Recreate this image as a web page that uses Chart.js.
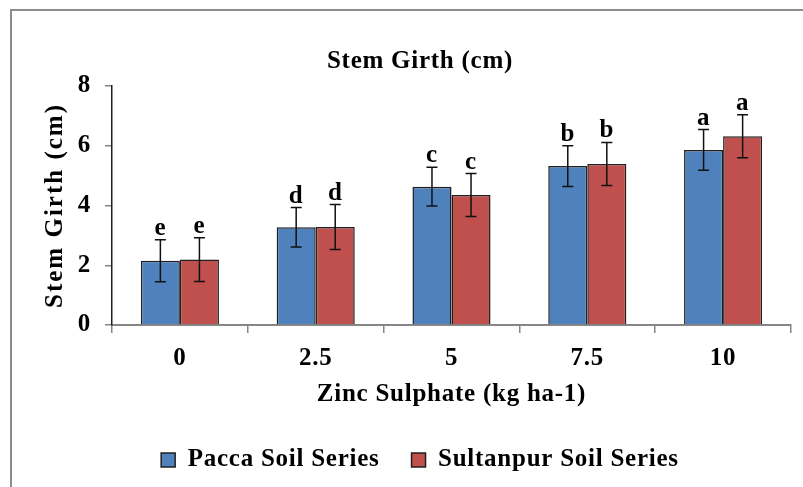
<!DOCTYPE html>
<html>
<head>
<meta charset="utf-8">
<script src="https://cdn.jsdelivr.net/npm/chart.js@4"></script>
<style>
  body { margin: 0; background: #fff; }
</style>
</head>
<body>
<canvas id="myChart" width="803" height="487"></canvas>
<script>
const labels = ['0', '2.5', '5', '7.5', '10'];
const paccaValues = [2.15, 3.27, 4.63, 5.32, 5.86];
const sultanpurValues = [2.19, 3.28, 4.35, 5.39, 6.32];
const paccaErrors = [0.70, 0.66, 0.65, 0.68, 0.68];
const sultanpurErrors = [0.73, 0.75, 0.72, 0.72, 0.72];
const paccaLetters = ['e', 'd', 'c', 'b', 'a'];
const sultanpurLetters = ['e', 'd', 'c', 'b', 'a'];
const yTicks = [0, 2, 4, 6, 8];

const FONT = "'Liberation Serif', 'Times New Roman', serif";
const FONT_SIZE = 25;
const axisColor = '#868686';

const errors = [paccaErrors, sultanpurErrors];
const letters = [paccaLetters, sultanpurLetters];

// the reference text is set a bit wide, so space the letters out
const spacingPlugin = {
    id: 'spacing',
    beforeUpdate(chart) { chart.ctx.letterSpacing = '0.75px'; },
    beforeDraw(chart) {
        const c = chart.ctx;
        c.letterSpacing = '0.75px';
        c.save();
        c.fillStyle = '#fff';
        c.fillRect(0, 0, chart.width, chart.height);
        c.strokeStyle = '#8c8c8c';
        c.lineWidth = 2;
        c.strokeRect(11, 10, chart.width + 20, chart.height + 20);
        c.restore();
    },
    afterDraw(chart) {
        // y axis title, drawn here so it can get its own spacing
        const c = chart.ctx;
        const area = chart.chartArea;
        c.save();
        c.translate(56, (area.top + area.bottom) / 2);
        c.rotate(-Math.PI / 2);
        c.letterSpacing = '2px';
        c.font = 'bold ' + FONT_SIZE + 'px ' + FONT;
        c.fillStyle = '#000';
        c.textAlign = 'center';
        c.textBaseline = 'middle';
        c.fillText('Stem Girth (cm)', 0, 0);
        c.restore();
    }
};

// error bars and letters above them
const errorPlugin = {
    id: 'errorBars',
    afterDatasetsDraw(chart) {
        const c = chart.ctx;
        const y = chart.scales.y;
        c.save();
        chart.data.datasets.forEach((ds, di) => {
            const meta = chart.getDatasetMeta(di);
            meta.data.forEach((bar, i) => {
                const v = ds.data[i];
                const e = errors[di][i];
                const top = y.getPixelForValue(v + e);
                const bot = y.getPixelForValue(v - e);
                c.strokeStyle = '#111';
                c.lineWidth = 1.5;
                c.beginPath();
                c.moveTo(bar.x, top); c.lineTo(bar.x, bot);
                c.moveTo(bar.x - 5.5, top); c.lineTo(bar.x + 5.5, top);
                c.moveTo(bar.x - 5.5, bot); c.lineTo(bar.x + 5.5, bot);
                c.stroke();
                c.fillStyle = '#000';
                c.font = 'bold ' + FONT_SIZE + 'px ' + FONT;
                c.textAlign = 'center';
                c.textBaseline = 'alphabetic';
                c.fillText(letters[di][i], bar.x, top - 5);
            });
        });
        c.restore();
    }
};

const data = {
    labels: labels,
    datasets: [
        {
            label: 'Pacca Soil Series',
            data: paccaValues,
            backgroundColor: '#4F81BD',
            borderColor: '#1f1f1f',
            borderWidth: 1.5,
            categoryPercentage: 0.575,
            barPercentage: 1.0
        },
        {
            label: 'Sultanpur Soil Series',
            data: sultanpurValues,
            backgroundColor: '#C0504D',
            borderColor: '#1f1f1f',
            borderWidth: 1.5,
            categoryPercentage: 0.575,
            barPercentage: 1.0
        }
    ]
};

const config = {
    type: 'bar',
    data: data,
    options: {
        responsive: false,
        animation: false,
        layout: { padding: { top: 0, right: 12, bottom: 4.5, left: 49 } },
        plugins: {
            title: {
                display: true,
                text: 'Stem Girth (cm)',
                color: '#000',
                font: { family: FONT, size: FONT_SIZE, weight: 'bold' },
                padding: { top: 47, bottom: 9 }
            },
            legend: {
                position: 'bottom',
                labels: {
                    color: '#000',
                    font: { family: FONT, size: FONT_SIZE, weight: 'bold' },
                    boxWidth: 14,
                    boxHeight: 14,
                    padding: 32,
                    generateLabels(chart) {
                        return chart.data.datasets.map((ds, i) => ({
                            text: ds.label,
                            fillStyle: ds.backgroundColor,
                            strokeStyle: '#1f1f1f',
                            lineWidth: 1.5,
                            datasetIndex: i
                        }));
                    }
                }
            },
            tooltip: { enabled: false }
        },
        scales: {
            x: {
                grid: {
                    drawOnChartArea: false,
                    drawTicks: true,
                    tickLength: 8,
                    color: axisColor,
                    lineWidth: 1.5
                },
                border: { color: axisColor, width: 2 },
                ticks: {
                    color: '#000',
                    font: { family: FONT, size: FONT_SIZE, weight: 'bold' },
                    padding: 11
                },
                title: {
                    display: true,
                    text: 'Zinc Sulphate (kg ha-1)',
                    color: '#000',
                    font: { family: FONT, size: FONT_SIZE, weight: 'bold' },
                    padding: { top: 4, bottom: 5.5 }
                },
                afterFit(scale) { scale.height = 90.5; }
            },
            y: {
                min: 0,
                max: 8,
                afterBuildTicks(scale) {
                    scale.ticks = yTicks.map(v => ({ value: v }));
                },
                grid: {
                    drawOnChartArea: false,
                    drawTicks: true,
                    tickLength: 7,
                    color: axisColor,
                    lineWidth: 1.5
                },
                border: { color: '#1f1f1f', width: 1.5 },
                ticks: {
                    color: '#000',
                    font: { family: FONT, size: FONT_SIZE, weight: 'bold' },
                    padding: 14
                },
                afterFit(scale) { scale.width = 63; }
            }
        }
    },
    plugins: [spacingPlugin, errorPlugin]
};

const myChart = new Chart(document.getElementById('myChart'), config);
</script>
</body>
</html>
